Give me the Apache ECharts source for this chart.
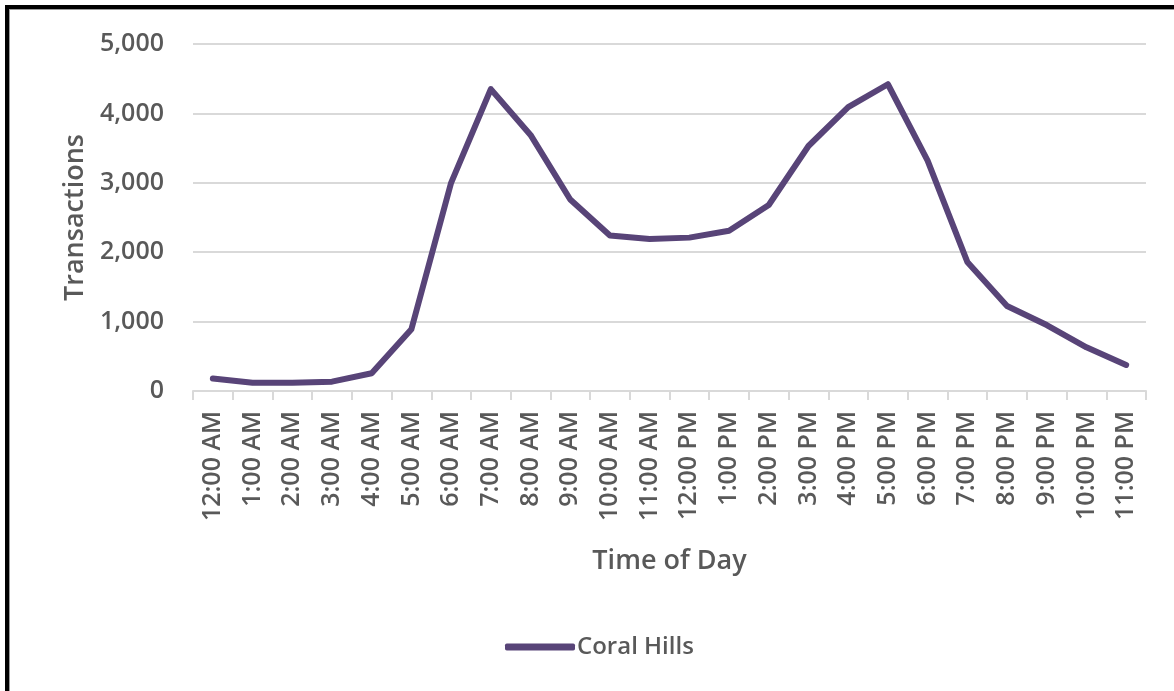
<!DOCTYPE html>
<html>
<head>
<meta charset="utf-8">
<script src="https://cdn.jsdelivr.net/npm/echarts@6/dist/echarts.min.js"></script>
<style>
  html, body { margin: 0; padding: 0; background: #fff; }
  #chart { width: 1174px; height: 691px; position: absolute; left: 0; top: 0; }
  #frame { position: absolute; left: 5px; top: 5px; right: 0; bottom: 0;
           border-left: 4px solid #000; border-top: 4px solid #000; pointer-events: none; }
  #frame2 { position: absolute; left: 9px; top: 9px; right: 0; bottom: 0;
           border-left: 1px solid #9a9a9a; border-top: 1px solid #9a9a9a; pointer-events: none; }
</style>
</head>
<body>
<div id="chart"></div>
<div id="frame"></div>
<div id="frame2"></div>
<script>
const categories = ["12:00 AM","1:00 AM","2:00 AM","3:00 AM","4:00 AM","5:00 AM","6:00 AM","7:00 AM","8:00 AM","9:00 AM","10:00 AM","11:00 AM",
                    "12:00 PM","1:00 PM","2:00 PM","3:00 PM","4:00 PM","5:00 PM","6:00 PM","7:00 PM","8:00 PM","9:00 PM","10:00 PM","11:00 PM"];
const seriesName = "Coral Hills";
const coralHills = [180,120,120,135,255,890,3000,4350,3690,2760,2240,2190,2210,2310,2680,3530,4090,4420,3320,1860,1225,950,630,375];
const yTicks = { min: 0, max: 5000, interval: 1000 };
const xTitle = "Time of Day";
const yTitle = "Transactions";

const font = '"Open Sans", "Noto Sans", sans-serif';
const txt = '#595959';
const chart = echarts.init(document.getElementById('chart'));
chart.setOption({
  animation: false,
  grid: { left: 193, right: 28, top: 44, bottom: 300, containLabel: false },
  xAxis: {
    type: 'category',
    data: categories,
    boundaryGap: true,
    name: xTitle,
    nameLocation: 'middle',
    nameGap: 157,
    nameTextStyle: { color: txt, fontFamily: font, fontSize: 27, fontWeight: 600 },
    axisLine: { lineStyle: { color: '#d9d9d9', width: 2 } },
    axisTick: { show: true, length: 9, lineStyle: { color: '#d9d9d9', width: 2 } },
    axisLabel: { rotate: 90, margin: 20, color: txt, fontFamily: font, fontSize: 25, fontWeight: 600, interval: 0 },
    splitLine: { show: false }
  },
  yAxis: {
    type: 'value',
    min: yTicks.min, max: yTicks.max, interval: yTicks.interval,
    name: yTitle,
    nameLocation: 'middle',
    nameRotate: 90,
    nameGap: 104,
    nameTextStyle: { color: txt, fontFamily: font, fontSize: 27, fontWeight: 600 },
    axisLine: { show: false },
    axisTick: { show: false },
    axisLabel: { margin: 29, color: txt, fontFamily: font, fontSize: 25, fontWeight: 600,
                 formatter: v => v.toLocaleString('en-US') },
    splitLine: { lineStyle: { color: '#d9d9d9', width: 2 } }
  },
  legend: {
    left: 500, top: 630,
    itemWidth: 70, itemHeight: 7, itemGap: 10,
    icon: 'roundRect',
    textStyle: { color: txt, fontFamily: font, fontSize: 24, fontWeight: 600, padding: [0, 0, 0, -3] },
    data: [seriesName]
  },
  series: [{
    name: seriesName,
    type: 'line',
    data: coralHills,
    symbol: 'none',
    color: '#584478',
    lineStyle: { color: '#584478', width: 6, cap: 'round', join: 'round' }
  }]
});
</script>
</body>
</html>
